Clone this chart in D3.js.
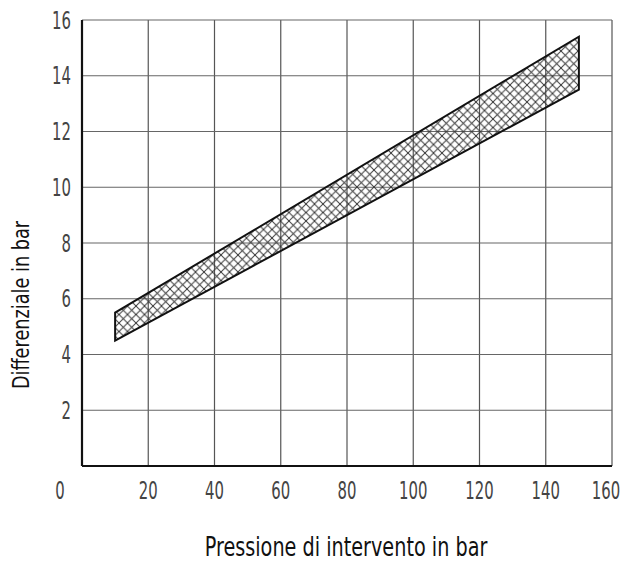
<!DOCTYPE html>
<meta charset="utf-8">
<script src="https://d3js.org/d3.v7.min.js"></script>
<style>
  body { margin: 0; background: #fff; }
  text { font-family: "DejaVu Sans", sans-serif; }
</style>
<svg id="chart" width="624" height="561"></svg>
<script>
  // data
  var xTicks = [20, 40, 60, 80, 100, 120, 140, 160];
  var yTicks = [2, 4, 6, 8, 10, 12, 14, 16];
  var bandX = [10, 150];
  var bandLow = [4.5, 13.5];
  var bandHigh = [5.5, 15.4];

  var svg = d3.select("svg");
  var pLeft = 82, pRight = 612, pTop = 20, pBottom = 466;

  var x = d3.scaleLinear().domain([0, 160]).range([pLeft, pRight]);
  var y = d3.scaleLinear().domain([0, 16]).range([pBottom, pTop]);

  // narrow "CAD" looking text: squeeze horizontally
  function label(g, px, py, str, size, sx, anchor, fill, rot) {
    return g.append("text")
      .attr("transform", "translate(" + px + "," + py + ")" + (rot ? " rotate(" + rot + ")" : "") + " scale(" + sx + ",1)")
      .attr("text-anchor", anchor)
      .attr("font-size", size)
      .attr("fill", fill)
      .text(str);
  }

  // crosshatch pattern
  var pat = svg.append("defs").append("pattern")
    .attr("id", "hatch")
    .attr("patternUnits", "userSpaceOnUse")
    .attr("width", 8.5).attr("height", 8.5);
  pat.append("path").attr("d", "M0,0 L8.5,8.5 M-2,6.5 L2,10.5 M6.5,-2 L10.5,2")
    .attr("stroke", "#333").attr("stroke-width", 0.95);
  pat.append("path").attr("d", "M0,8.5 L8.5,0 M-2,2 L2,-2 M6.5,10.5 L10.5,6.5")
    .attr("stroke", "#333").attr("stroke-width", 0.95);

  // grid
  svg.append("g")
    .selectAll("line")
    .data(xTicks)
    .enter().append("line")
      .attr("x1", function(d) { return x(d); })
      .attr("x2", function(d) { return x(d); })
      .attr("y1", pTop).attr("y2", pBottom)
      .attr("stroke", "#555").attr("stroke-width", 1.2);

  svg.append("g")
    .selectAll("line")
    .data(yTicks)
    .enter().append("line")
      .attr("x1", pLeft).attr("x2", pRight)
      .attr("y1", function(d) { return y(d); })
      .attr("y2", function(d) { return y(d); })
      .attr("stroke", "#666").attr("stroke-width", 1.2);

  // band
  var pts = [
    [bandX[0], bandLow[0]], [bandX[1], bandLow[1]],
    [bandX[1], bandHigh[1]], [bandX[0], bandHigh[0]]
  ];
  svg.append("path")
    .attr("d", d3.line().x(function(d) { return x(d[0]); }).y(function(d) { return y(d[1]); })(pts) + "Z")
    .attr("fill", "url(#hatch)")
    .attr("stroke", "#111")
    .attr("stroke-width", 2)
    .attr("stroke-linejoin", "miter");

  // axes lines
  svg.append("line")
    .attr("x1", pLeft).attr("x2", pLeft).attr("y1", pTop).attr("y2", pBottom)
    .attr("stroke", "#111").attr("stroke-width", 2.2);
  svg.append("line")
    .attr("x1", pLeft).attr("x2", pRight).attr("y1", pBottom).attr("y2", pBottom)
    .attr("stroke", "#111").attr("stroke-width", 2.2);

  // tick labels
  var gx = svg.append("g");
  xTicks.forEach(function(d) { label(gx, Math.min(x(d), 606), 499, d, 24, 0.62, "middle", "#444"); });
  label(gx, 60, 499, "0", 24, 0.62, "middle", "#444");

  var gy = svg.append("g");
  yTicks.forEach(function(d) { label(gy, 71, y(d) + 8.5, d, 24, 0.62, "end", "#444"); });

  // axis titles
  label(svg, 346, 556, "Pressione di intervento in bar", 26, 0.74, "middle", "#111");
  label(svg, 29, 305, "Differenziale in bar", 23, 0.77, "middle", "#111", -90);
</script>
